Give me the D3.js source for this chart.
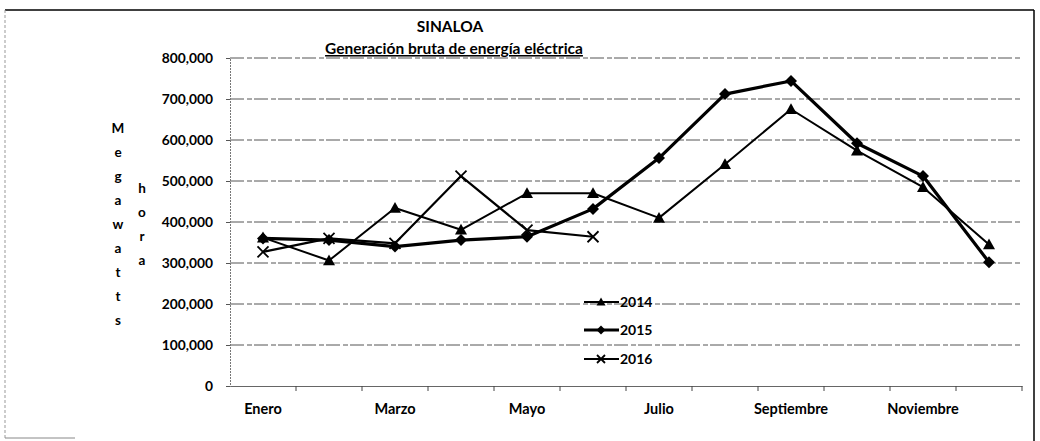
<!DOCTYPE html>
<html><head><meta charset="utf-8">
<script src="https://cdn.jsdelivr.net/npm/d3@7"></script>
<style>body{margin:0;background:#fff}svg{display:block}text{font-family:Lato,"Open Sans",sans-serif;font-weight:bold;fill:#000}</style>
</head><body>
<script>
const months = ["Enero","Febrero","Marzo","Abril","Mayo","Junio","Julio","Agosto","Septiembre","Octubre","Noviembre","Diciembre"];
const shownMonths = ["Enero","Marzo","Mayo","Julio","Septiembre","Noviembre"];
const v2014 = [362000,306000,434000,381000,470000,470000,410000,541000,675000,574000,485000,345000];
const v2015 = [360000,356000,340000,356000,364000,432000,556000,712000,744000,592000,512000,302000];
const v2016 = [327000,360000,348000,512000,380000,364000];
const yTicks = [0,100000,200000,300000,400000,500000,600000,700000,800000];
const seriesNames = ["2014","2015","2016"];
const titleText = "SINALOA";
const subtitleText = "Generación bruta de energía eléctrica";
const yLabel1 = "Megawatts", yLabel2 = "hora";

const W=1040,H=441;
const svg=d3.select("body").append("svg").attr("width",W).attr("height",H);
const m={l:230,r:1022,t:58,b:386};
const x=d3.scaleBand().domain(months).range([m.l,m.r]);
const y=d3.scaleLinear().domain([0,800000]).range([m.b,m.t]);

// frame
svg.append("line").attr("x1",5).attr("x2",1034).attr("y1",10).attr("y2",10).attr("stroke","#000").attr("stroke-width",1.5);
svg.append("line").attr("x1",1034).attr("x2",1034).attr("y1",10).attr("y2",441).attr("stroke","#000").attr("stroke-width",1.5);
svg.append("line").attr("x1",5).attr("x2",5).attr("y1",10).attr("y2",438).attr("stroke","#999").attr("stroke-dasharray","3,2");
svg.append("line").attr("x1",5).attr("x2",75).attr("y1",438).attr("y2",438).attr("stroke","#888");

// grid
svg.append("g").selectAll("line").data(yTicks.filter(d=>d>0)).join("line")
 .attr("x1",m.l).attr("x2",m.r).attr("y1",d=>y(d)).attr("y2",d=>y(d))
 .attr("stroke","#555").attr("stroke-width",1).attr("stroke-dasharray","14,3,5,2");

// y axis
const ya=svg.append("g").attr("transform",`translate(${m.l},0)`)
 .call(d3.axisLeft(y).tickValues(yTicks).tickSize(4).tickPadding(13).tickFormat(d=>d===0?"0":d3.format(",")(d)));
ya.select(".domain").attr("stroke","#777").attr("stroke-dasharray","2,1");
ya.selectAll(".tick line").attr("stroke","#555");
ya.selectAll("text").attr("font-size",13.8).attr("font-family","Lato").attr("font-weight","bold").attr("fill","#000");

// x axis
const xa=svg.append("g").attr("transform",`translate(0,${m.b})`)
 .call(d3.axisBottom(x).tickValues(shownMonths).tickSize(0).tickPadding(18));
xa.select(".domain").attr("stroke","#666");
xa.selectAll("text").attr("font-size",14.5).attr("font-family","Lato").attr("font-weight","bold").attr("fill","#000");
svg.append("g").selectAll("line").data(months).join("line")
 .attr("x1",d=>x(d)+x.bandwidth()).attr("x2",d=>x(d)+x.bandwidth())
 .attr("y1",m.b).attr("y2",m.b+5).attr("stroke","#444");

const cx=d=>x(d)+x.bandwidth()/2;
const line=d3.line().x(d=>cx(d.m)).y(d=>y(d.v));
const toPts=arr=>arr.map((v,i)=>({m:months[i],v}));

function drawSeries(vals,sw,marker){
  const pts=toPts(vals);
  svg.append("path").datum(pts).attr("d",line).attr("fill","none").attr("stroke","#000").attr("stroke-width",sw).attr("stroke-linejoin","round");
  const g=svg.append("g");
  pts.forEach(p=>marker(g,cx(p.m),y(p.v)));
}
const tri=(g,px,py,s=6)=>g.append("path").attr("d",`M${px},${py-s}L${px+s},${py+s*0.8}L${px-s},${py+s*0.8}Z`).attr("fill","#000");
const dia=(g,px,py,s=6)=>g.append("path").attr("d",`M${px},${py-s}L${px+s},${py}L${px},${py+s}L${px-s},${py}Z`).attr("fill","#000");
const cross=(g,px,py,s=5.5)=>g.append("path").attr("d",`M${px-s},${py-s}L${px+s},${py+s}M${px+s},${py-s}L${px-s},${py+s}`).attr("stroke","#000").attr("stroke-width",1.8);

drawSeries(v2014,2,tri);
drawSeries(v2015,3.2,dia);
drawSeries(v2016,2.2,cross);

// legend
const lg=svg.append("g");
const legY=[302,330,359];
const markers=[tri,dia,cross];
const widths=[2,3,2];
seriesNames.forEach((n,i)=>{
  lg.append("line").attr("x1",584).attr("x2",619).attr("y1",legY[i]).attr("y2",legY[i]).attr("stroke","#000").attr("stroke-width",widths[i]);
  markers[i](lg,601,legY[i],i===2?4:4.5);
  lg.append("text").attr("x",620).attr("y",legY[i]+5).attr("font-size",14).text(n);
});

// titles
svg.append("text").attr("x",450).attr("y",32).attr("text-anchor","middle").attr("font-size",15.5).text(titleText);
svg.append("text").attr("x",454).attr("y",54).attr("text-anchor","middle").attr("font-size",15.5).attr("text-decoration","underline").text(subtitleText);

// y label letters
yLabel1.split("").forEach((c,i)=>svg.append("text").attr("x",118).attr("y",133+i*24).attr("text-anchor","middle").attr("font-size",13.5).text(c));
yLabel2.split("").forEach((c,i)=>svg.append("text").attr("x",142).attr("y",193+i*24).attr("text-anchor","middle").attr("font-size",13.5).text(c));
</script>
</body></html>
